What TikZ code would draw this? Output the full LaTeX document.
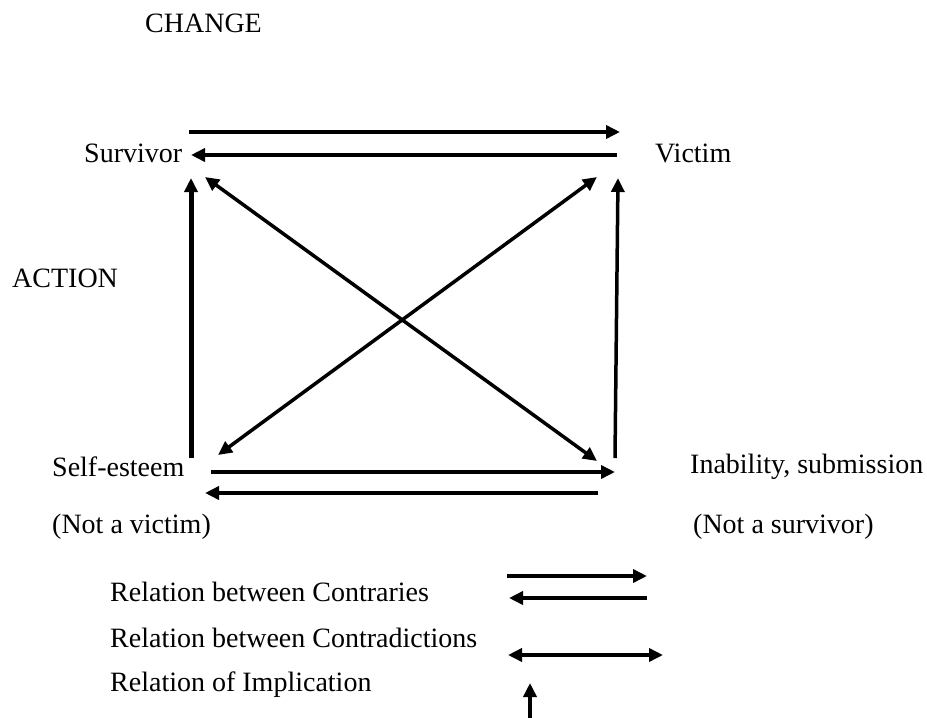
\documentclass[tikz,border=0pt]{standalone}
\usepackage{fontspec}
\setmainfont{Liberation Serif}
\usetikzlibrary{arrows.meta}
\begin{document}
\begin{tikzpicture}[x=1pt,y=-1pt,
    lbl/.style={anchor=west,inner sep=0pt,font=\fontsize{28}{31}\selectfont},
    arr/.style={line width=3.5pt,-{Triangle[length=14pt,width=13pt]}},
    dblarr/.style={line width=3.5pt,{Triangle[length=14pt,width=13pt]}-{Triangle[length=14pt,width=13pt]}}]
  \useasboundingbox (0,0) rectangle (927,718);
  % labels
  \node[lbl] (change) at (145,23) {CHANGE};
  \node[lbl] (surv) at (84,153) {Survivor};
  \node[lbl] (vict) at (655,153) {Victim};
  \node[lbl] (action) at (12,278) {ACTION};
  \node[lbl] (self) at (52,467) {Self-esteem};
  \node[lbl] (inab) at (690,467) {Inability, submission};
  \node[lbl] (notvict) at (52,527) {(Not a victim)};
  \node[lbl] (notsurv) at (693,527) {(Not a survivor)};
  % corner points of the square
  \coordinate (tl) at (191,178);
  \coordinate (tr) at (618,178);
  \coordinate (bl) at (191,458);
  \coordinate (br) at (615,458);
  \coordinate (t1) at (189,132);  \coordinate (t2) at (620,132);
  \coordinate (t3) at (617,155);  \coordinate (t4) at (191,155);
  \coordinate (b1) at (211,472);  \coordinate (b2) at (615,472);
  \coordinate (b3) at (598,493);  \coordinate (b4) at (205,493);
  \coordinate (d1) at (205,177);  \coordinate (d2) at (597,461);
  \coordinate (d3) at (218,455);  \coordinate (d4) at (597,177);
  % contraries
  \draw[arr] (t1) -- (t2);
  \draw[arr] (t3) -- (t4);
  \draw[arr] (b1) -- (b2);
  \draw[arr] (b3) -- (b4);
  % contradictions
  \draw[dblarr] (d1) -- (d2);
  \draw[dblarr] (d3) -- (d4);
  % implications
  \draw[arr,line width=5pt] (bl) -- (tl);
  \draw[arr] (br) -- (tr);
  % legend
  \node[lbl] (leg1) at (110,592) {Relation between Contraries};
  \node[lbl] (leg2) at (110,638) {Relation between Contradictions};
  \node[lbl] (leg3) at (110,685) {Relation of Implication};
  \coordinate (l1) at (507,576);  \coordinate (l2) at (647,576);
  \coordinate (l3) at (647,598);  \coordinate (l4) at (509,598);
  \coordinate (l5) at (508,655);  \coordinate (l6) at (663,655);
  \coordinate (l7) at (530,718);  \coordinate (l8) at (530,683);
  \draw[arr] (l1) -- (l2);
  \draw[arr] (l3) -- (l4);
  \draw[dblarr] (l5) -- (l6);
  \draw[arr] (l7) -- (l8);
\end{tikzpicture}
\end{document}
